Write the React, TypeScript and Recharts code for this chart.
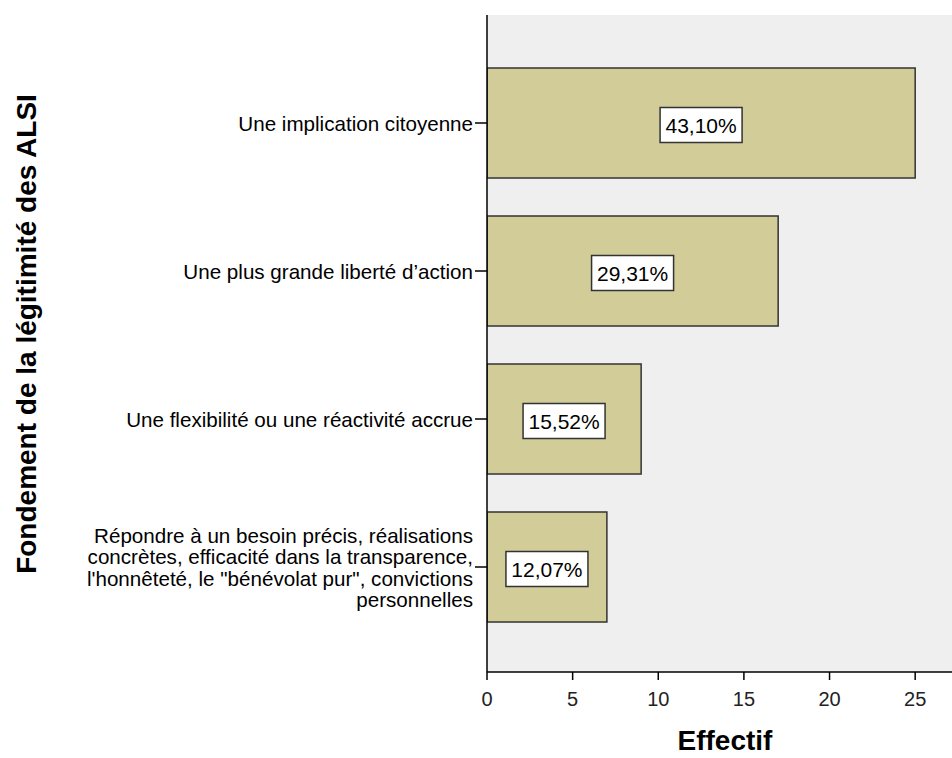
import React from 'react'
import { BarChart, Bar, XAxis, YAxis, CartesianGrid, LabelList } from 'recharts'

const categories = [
  'Une implication citoyenne',
  'Une plus grande liberté d\u2019action',
  'Une flexibilité ou une réactivité accrue',
  'Répondre à un besoin précis, réalisations\nconcrètes, efficacité dans la transparence,\nl\'honnêteté, le "bénévolat pur", convictions\npersonnelles',
]
const counts = [25, 17, 9, 7]
const percents = ['43,10%', '29,31%', '15,52%', '12,07%']
const xTicks = [0, 5, 10, 15, 20, 25]
const xMax = 27.15

const data = categories.map((name, i) => ({ name, count: counts[i], pct: percents[i] }))

const FONT = 'Arial, "Liberation Sans", sans-serif'

const CategoryTick = (props: any) => {
  const { x, y, payload } = props
  const lines = String(payload.value).split('\n')
  const lh = 21.5
  const startY = y - ((lines.length - 1) * lh) / 2 + 3
  return (
    <text x={x} y={startY} textAnchor="end" fontFamily={FONT} fontSize={20.6} fill="#000" dominantBaseline="middle">
      {lines.map((l, i) => (
        <tspan key={i} x={x} dy={i === 0 ? 0 : lh}>{l}</tspan>
      ))}
    </text>
  )
}

const PctLabel = (props: any) => {
  const { x, y, width, height, value } = props
  const cx = x + width / 2
  const cy = y + height / 2 + 2
  const w = 82
  const h = 35
  return (
    <g>
      <rect x={cx - w / 2} y={cy - h / 2} width={w} height={h} fill="#fff" stroke="#333" strokeWidth={1.5} />
      <text x={cx} y={cy} textAnchor="middle" dominantBaseline="central" fontFamily={FONT} fontSize={21} fill="#000">{value}</text>
    </g>
  )
}

export default function App() {
  return (
    <div style={{ position: 'absolute', left: 0, top: 0, background: '#fff' }}>
      <BarChart width={952} height={758} data={data} layout="vertical" margin={{ top: 15, right: 0, bottom: 0, left: 0 }}>
        <CartesianGrid fill="#efefef" horizontal={false} vertical={false} />
        <XAxis
          xAxisId="top"
          orientation="top"
          type="number"
          domain={[0, xMax]}
          height={0}
          tick={false}
          tickLine={false}
          axisLine={{ stroke: '#8a8a8a', strokeWidth: 1.5 }}
        />
        <XAxis
          type="number"
          domain={[0, xMax]}
          ticks={xTicks}
          allowDataOverflow
          height={86}
          tickSize={8}
          tickMargin={12}
          tick={{ fontFamily: FONT, fontSize: 20, fill: '#222' }}
          axisLine={{ stroke: '#000', strokeWidth: 1.5 }}
          tickLine={{ stroke: '#000', strokeWidth: 1.5 }}
          label={(p: any) => (
            <text x={p.viewBox.x + 238} y={750} textAnchor="middle" fontFamily={FONT} fontSize={28} fontWeight="bold" fill="#000">Effectif</text>
          )}
        />
        <YAxis
          type="category"
          dataKey="name"
          width={487}
          padding={{ top: 34, bottom: 31 }}
          tickSize={12}
          tickMargin={2}
          tick={<CategoryTick />}
          interval={0}
          axisLine={{ stroke: '#000', strokeWidth: 1.5 }}
          tickLine={{ stroke: '#000', strokeWidth: 1.5 }}
          label={() => (
            <text
              x={26}
              y={334}
              transform="rotate(-90 26 334)"
              textAnchor="middle"
              dominantBaseline="central"
              fontFamily={FONT}
              fontSize={28}
              fontWeight="bold"
              fill="#000"
            >
              Fondement de la légitimité des ALSI
            </text>
          )}
        />
        <Bar dataKey="count" fill="#d2cd98" stroke="#333" strokeWidth={1.5} barSize={110} isAnimationActive={false}>
          <LabelList dataKey="pct" content={<PctLabel />} />
        </Bar>
      </BarChart>
    </div>
  )
}
